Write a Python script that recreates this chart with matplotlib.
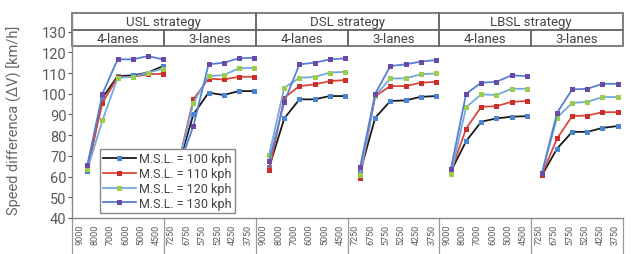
import matplotlib.pyplot as plt
import numpy as np

plt.rcParams['font.family'] = ['Roboto', 'DejaVu Sans']

# category labels
strategies = ['USL strategy', 'DSL strategy', 'LBSL strategy']
lanes = ['4-lanes', '3-lanes']
flows_4 = ['9000', '8000', '7000', '6000', '5000', '4500']
flows_3 = ['7250', '6750', '5750', '5250', '4250', '3750']

# speed difference per group: USL4, USL3, DSL4, DSL3, LBSL4, LBSL3
msl_100 = [[62.6, 98.0, 108.5, 108.9, 110.2, 113.4],
           [65.0, 90.0, 100.5, 99.4, 101.3, 101.3],
           [64.5, 88.1, 97.3, 97.3, 98.9, 98.9],
           [62.0, 88.4, 96.5, 96.8, 98.5, 98.9],
           [62.6, 77.1, 86.5, 88.1, 88.9, 89.2],
           [60.6, 73.5, 81.6, 81.6, 83.5, 84.4]]
msl_110 = [[64.0, 95.6, 108.0, 108.2, 109.4, 109.7],
           [66.0, 97.3, 107.3, 106.9, 108.2, 108.2],
           [63.0, 98.1, 103.7, 104.5, 106.1, 106.6],
           [59.4, 98.9, 103.7, 103.7, 105.3, 105.8],
           [62.5, 83.2, 93.7, 94.0, 96.1, 96.5],
           [61.0, 78.4, 89.2, 89.5, 91.1, 91.1]]
msl_120 = [[63.5, 87.1, 107.7, 108.2, 110.2, 112.1],
           [65.5, 95.6, 108.5, 109.0, 112.3, 112.6],
           [70.6, 102.9, 107.7, 108.1, 110.2, 110.6],
           [61.0, 99.0, 107.4, 107.4, 109.4, 109.8],
           [61.3, 93.5, 99.7, 99.4, 102.4, 102.4],
           [61.5, 88.5, 95.6, 96.1, 98.4, 98.4]]
msl_130 = [[65.5, 100.0, 116.6, 116.6, 118.2, 116.6],
           [64.0, 84.4, 114.2, 115.0, 117.1, 117.4],
           [67.4, 96.0, 114.2, 115.0, 116.6, 117.1],
           [64.5, 100.0, 113.4, 114.2, 115.5, 116.3],
           [63.9, 100.0, 105.3, 105.8, 108.9, 108.5],
           [61.5, 90.8, 102.1, 102.4, 104.8, 104.8]]

series = [
    ('M.S.L. = 100 kph', msl_100, '#1a1a1a', '#4a86d0'),
    ('M.S.L. = 110 kph', msl_110, '#d9473a', '#c9302a'),
    ('M.S.L. = 120 kph', msl_120, '#74a9e0', '#9acd4a'),
    ('M.S.L. = 130 kph', msl_130, '#5580d4', '#6a4aa5'),
]

grey = '#5a5a5a'
fig = plt.figure(figsize=(6.42, 2.55), dpi=100)
ax = fig.add_axes([72/642, 1-219/255, (623-72)/642, (219-14)/255])

n_groups = 6
n_pts = 6
for label, data, lc, mc in series:
    for g in range(n_groups):
        k = np.arange(n_pts) + g*n_pts
        xs = 1.0 + 0.99*k
        ax.plot(xs, data[g], color=lc, lw=1.3, marker='s', ms=3.6,
                mfc=mc, mec=mc, mew=0, label=label if g == 0 else None)

ax.set_xlim(0, 36)
ax.set_ylim(40, 139)
ax.set_yticks(range(40, 131, 10))
ax.tick_params(axis='y', labelsize=10.5, colors=grey, length=3, width=0.8, pad=1)

xlabels = (flows_4 + flows_3) * 3
ax.set_xticks(np.arange(36) + 0.5)
ax.set_xticklabels(xlabels, rotation=90, fontsize=6.5, color=grey)
ax.tick_params(axis='x', length=0, pad=4)

for s in ['top', 'right']:
    ax.spines[s].set_visible(False)
for s in ['left', 'bottom']:
    ax.spines[s].set_color('#888888')
    ax.spines[s].set_linewidth(1.0)

# header boxes
hc = '#6a6a6a'
y0, y1, y2 = 122.9, 130.8, 139
for i, st in enumerate(strategies):
    ax.add_patch(plt.Rectangle((i*12, y1), 12, y2-y1, fill=False, ec=hc, lw=1.2, clip_on=False))
    ax.text(i*12+6, (y1+y2)/2, st, ha='center', va='center', fontsize=9.5, color='#444444')
    for j, ln in enumerate(lanes):
        x0 = i*12 + j*6
        ax.add_patch(plt.Rectangle((x0, y0), 6, y1-y0, fill=False, ec=hc, lw=1.2, clip_on=False))
        ax.text(x0+3, (y0+y1)/2, ln, ha='center', va='center', fontsize=9.5, color='#444444')

# group separators under the axis
trans = ax.get_xaxis_transform()
for xb in range(0, 37, 6):
    ax.plot([xb, xb], [0, -0.2], color='#999999', lw=0.9, transform=trans, clip_on=False)

ax.set_ylabel('Speed differenca (\u0394V) [km/h]', fontsize=10.5, color='#666666')
ax.yaxis.set_label_coords(-0.09, 0.48)

leg = ax.legend(loc='upper left', bbox_to_anchor=(100/642, 1-150/255),
                bbox_transform=fig.transFigure, fontsize=9, frameon=True,
                fancybox=False, edgecolor='#888888', framealpha=1,
                handlelength=2.6, handletextpad=0.3, labelspacing=0.15,
                borderpad=0.25, borderaxespad=0)
leg.get_frame().set_linewidth(1.0)
for t in leg.get_texts():
    t.set_color('#444444')

fig.savefig('out.png', dpi=100)
